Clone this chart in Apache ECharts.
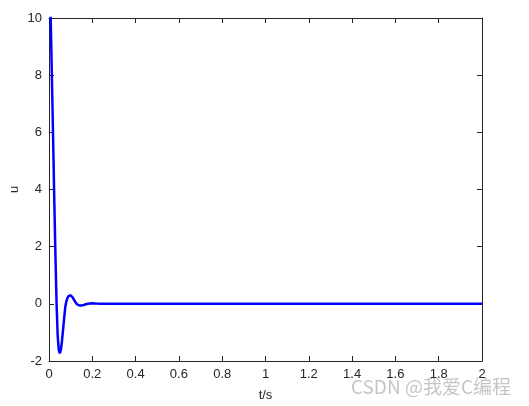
<!DOCTYPE html>
<html>
<head>
<meta charset="utf-8">
<style>html,body{margin:0;padding:0;background:#fff;}#c{width:529px;height:406px;}</style>
<script src="https://cdn.jsdelivr.net/npm/echarts@6/dist/echarts.min.js"></script>
</head>
<body>
<div id="c"></div>
<script>
var tValues = [0, 0.005, 0.01, 0.015, 0.02, 0.025, 0.03, 0.035, 0.04, 0.045, 0.05, 0.055, 0.06, 0.065, 0.07, 0.075, 0.08, 0.085, 0.09, 0.095, 0.1, 0.105, 0.11, 0.115, 0.12, 0.125, 0.13, 0.135, 0.14, 0.145, 0.15, 0.16, 0.17, 0.18, 0.19, 0.2, 0.21, 0.22, 0.24, 0.3, 0.5, 1.0, 1.5, 2.0];
var uValues = [12.8, 11.0, 9.2, 7.3, 5.4, 3.4, 1.6, 0.0, -1.1, -1.6, -1.73, -1.6, -1.3, -0.9, -0.5, -0.12, 0.08, 0.2, 0.27, 0.3, 0.3, 0.28, 0.22, 0.15, 0.08, 0.02, -0.02, -0.045, -0.055, -0.06, -0.055, -0.04, -0.015, 0.005, 0.015, 0.018, 0.015, 0.008, 0, 0, 0, 0, 0, 0];
var xTicks = [0, 0.2, 0.4, 0.6, 0.8, 1, 1.2, 1.4, 1.6, 1.8, 2];
var yTicks = [-2, 0, 2, 4, 6, 8, 10];

var data = tValues.map(function (t, i) { return [t, uValues[i]]; });
var axisColor = '#262626';
var font = 'Liberation Sans, Arial, sans-serif';

var chart = echarts.init(document.getElementById('c'));
chart.setOption({
  animation: false,
  backgroundColor: '#fff',
  grid: { left: 49, right: 47, top: 18, bottom: 45, containLabel: false, outerBoundsMode: 'none' },
  xAxis: [{
    type: 'value', min: xTicks[0], max: xTicks[xTicks.length - 1], interval: 0.2,
    position: 'bottom',
    name: 't/s', nameLocation: 'middle', nameGap: 28, nameMoveOverlap: false,
    nameTextStyle: { color: axisColor, fontFamily: font, fontSize: 13 },
    axisLine: { show: true, onZero: false, lineStyle: { color: axisColor, width: 1 } },
    axisTick: { show: true, inside: true, length: 5, lineStyle: { color: axisColor } },
    axisLabel: { color: axisColor, fontFamily: font, fontSize: 13, margin: 7 },
    splitLine: { show: false }
  }, {
    type: 'value', min: xTicks[0], max: xTicks[xTicks.length - 1], interval: 0.2,
    position: 'top',
    axisLine: { show: true, onZero: false, lineStyle: { color: axisColor, width: 1 } },
    axisTick: { show: true, inside: true, length: 5, lineStyle: { color: axisColor } },
    axisLabel: { show: false },
    splitLine: { show: false }
  }],
  yAxis: [{
    type: 'value', min: yTicks[0], max: yTicks[yTicks.length - 1], interval: 2,
    position: 'left',
    name: 'u', nameLocation: 'middle', nameGap: 28, nameMoveOverlap: false,
    nameTextStyle: { color: axisColor, fontFamily: font, fontSize: 13 },
    axisLine: { show: true, onZero: false, lineStyle: { color: axisColor, width: 1 } },
    axisTick: { show: true, inside: true, length: 5, lineStyle: { color: axisColor } },
    axisLabel: { color: axisColor, fontFamily: font, fontSize: 13, margin: 7 },
    splitLine: { show: false }
  }, {
    type: 'value', min: yTicks[0], max: yTicks[yTicks.length - 1], interval: 2,
    position: 'right',
    axisLine: { show: true, onZero: false, lineStyle: { color: axisColor, width: 1 } },
    axisTick: { show: true, inside: true, length: 5, lineStyle: { color: axisColor } },
    axisLabel: { show: false },
    splitLine: { show: false }
  }],
  series: [{
    type: 'line',
    data: data,
    xAxisIndex: 0, yAxisIndex: 0,
    showSymbol: false,
    smooth: false,
    clip: true,
    lineStyle: { color: '#0000ff', width: 2.5 }
  }],
  graphic: [{
    type: 'text', right: 18, bottom: 10,
    style: { text: 'CSDN @我爱C编程', fill: 'rgba(150,150,150,0.55)', font: '19px "Noto Sans CJK SC", sans-serif' }
  }]
});
</script>
</body>
</html>
